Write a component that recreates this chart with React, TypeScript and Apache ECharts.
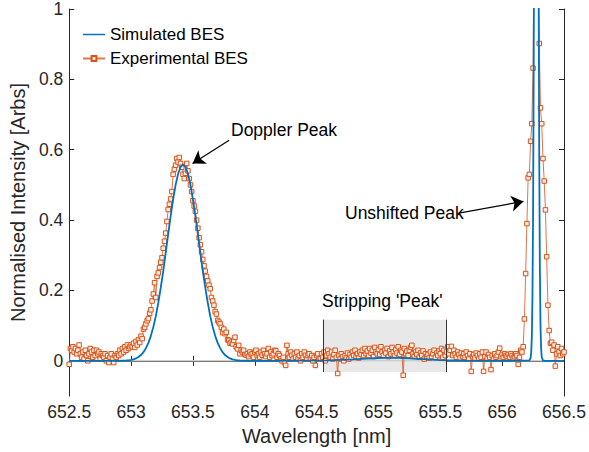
import React, { useEffect, useRef } from "react";
import * as echarts from "echarts";

// Experimental BES: sampled every 0.01 nm from 652.50 nm to 656.50 nm
const EXP_START = 652.5;
const EXP_STEP = 0.01;
const expValues: number[] = [
  -0.010, 0.035, 0.030, 0.040, 0.025, 0.035, 0.020, 0.030, 0.045, 0.020,
  0.010, 0.025, 0.005, 0.030, 0.015, 0.000, 0.020, 0.035, 0.025, 0.010,
  0.030, 0.015, 0.030, 0.020, 0.025, 0.005, 0.020, 0.015, 0.010, 0.020,
  0.000, 0.015, -0.005, 0.010, 0.020, 0.005, -0.005, 0.015, 0.010, 0.020,
  0.015, 0.030, 0.020, 0.035, 0.025, 0.040, 0.030, 0.045, 0.035, 0.040,
  0.045, 0.040, 0.050, 0.038, 0.055, 0.045, 0.060, 0.052, 0.070, 0.063,
  0.090, 0.095, 0.105, 0.114, 0.120, 0.135, 0.145, 0.170, 0.190, 0.222,
  0.180, 0.240, 0.250, 0.265, 0.280, 0.293, 0.320, 0.340, 0.363, 0.396,
  0.430, 0.445, 0.460, 0.481, 0.530, 0.545, 0.556, 0.575, 0.565, 0.578,
  0.561, 0.550, 0.530, 0.518, 0.533, 0.561, 0.540, 0.518, 0.500, 0.481,
  0.455, 0.440, 0.425, 0.400, 0.377, 0.350, 0.330, 0.310, 0.288, 0.270,
  0.255, 0.240, 0.227, 0.215, 0.205, 0.180, 0.170, 0.158, 0.140, 0.133,
  0.115, 0.110, 0.105, 0.095, 0.080, 0.090, 0.077, 0.081, 0.060, 0.058,
  0.050, 0.053, 0.048, 0.058, 0.067, 0.040, 0.034, 0.044, 0.020, 0.030,
  0.025, 0.030, 0.018, 0.016, 0.020, 0.012, 0.025, 0.018, 0.020, 0.010,
  0.025, 0.030, 0.015, 0.020, 0.010, 0.025, 0.016, 0.030, 0.020, 0.012,
  0.020, 0.035, 0.010, 0.025, 0.015, 0.020, 0.030, 0.028, 0.010, 0.020,
  0.015, 0.006, 0.000, 0.010, -0.005, -0.013, 0.044, 0.020, 0.010, 0.025,
  0.016, 0.005, 0.020, 0.010, 0.025, 0.006, 0.015, 0.000, 0.020, 0.010,
  0.025, 0.016, 0.005, 0.015, 0.020, 0.006, 0.015, 0.000, 0.010, -0.013,
  0.015, 0.020, 0.005, 0.006, 0.020, 0.010, 0.025, 0.000, 0.015, 0.030,
  0.020, 0.010, 0.025, 0.005, 0.018, 0.030, 0.010, -0.036, 0.015, 0.005,
  0.020, 0.012, 0.000, 0.015, 0.008, 0.022, 0.005, 0.018, 0.010, 0.025,
  0.015, 0.030, 0.012, 0.020, 0.008, 0.025, 0.018, 0.030, 0.015, 0.035,
  0.020, 0.028, 0.015, 0.035, 0.022, 0.030, 0.012, 0.038, 0.025, 0.020,
  0.032, 0.018, 0.040, 0.025, 0.015, 0.030, 0.022, 0.035, 0.012, 0.028,
  0.020, 0.038, 0.025, 0.015, 0.032, 0.022, 0.040, 0.018, 0.030, 0.025,
  -0.041, 0.035, 0.020, 0.028, 0.015, 0.030, 0.038, 0.044, 0.020, 0.012,
  0.025, 0.018, 0.030, 0.010, 0.022, 0.015, 0.028, 0.005, 0.020, 0.012,
  0.018, 0.008, 0.025, 0.012, 0.020, 0.030, 0.010, 0.022, 0.015, 0.028,
  0.020, 0.035, 0.010, 0.030, 0.015, 0.025, 0.040, 0.020, 0.030, 0.041,
  0.015, 0.030, 0.020, 0.010, 0.025, 0.018, 0.008, 0.022, 0.012, 0.020,
  0.010, 0.025, 0.015, 0.005, 0.020, -0.030, 0.012, 0.018, 0.008, 0.022,
  0.015, 0.005, 0.020, 0.010, 0.025, -0.030, 0.012, 0.025, 0.008, 0.018,
  0.010, -0.025, 0.015, 0.005, 0.020, 0.010, 0.015, 0.025, 0.036, 0.012,
  0.018, 0.010, 0.020, 0.015, 0.012, 0.018, 0.010, 0.020, 0.015, 0.008,
  0.012, 0.020, 0.015, -0.010, 0.010, 0.030, 0.025, 0.040, 0.119, 0.248,
  0.390, 0.520, 0.530, 0.624, 0.674, 0.832, 1.250, 1.600, 1.450, 1.150,
  0.902, 0.719, 0.674, 0.575, 0.511, 0.429, 0.296, 0.158, 0.086, 0.050,
  0.053, 0.030, 0.045, -0.015, 0.020, 0.040, 0.025, 0.015, 0.035, 0.020,
  0.025,
];

// Simulated BES: [wavelength nm, intensity]
const simPoints: [number, number][] = [
  [652.5, 0], [652.9, 0], [652.96, 0.0009], [652.98, 0.0015], [653.0, 0.0025],
  [653.02, 0.0042], [653.04, 0.0068], [653.06, 0.0107], [653.08, 0.0164],
  [653.1, 0.0245], [653.12, 0.036], [653.14, 0.051], [653.16, 0.071],
  [653.18, 0.096], [653.2, 0.127], [653.22, 0.165], [653.24, 0.208],
  [653.26, 0.255], [653.28, 0.307], [653.3, 0.36], [653.32, 0.411],
  [653.34, 0.459], [653.36, 0.5], [653.38, 0.531], [653.4, 0.551],
  [653.42, 0.558], [653.44, 0.551], [653.46, 0.531], [653.48, 0.5],
  [653.5, 0.459], [653.52, 0.411], [653.54, 0.36], [653.56, 0.307],
  [653.58, 0.255], [653.6, 0.208], [653.62, 0.165], [653.64, 0.127],
  [653.66, 0.096], [653.68, 0.071], [653.7, 0.051], [653.72, 0.036],
  [653.74, 0.0245], [653.76, 0.0164], [653.78, 0.0107], [653.8, 0.0068],
  [653.82, 0.0042], [653.84, 0.0025], [653.86, 0.0015], [653.88, 0.0009],
  [653.95, 0.0002], [654.1, 0], [654.6, 0.001], [654.8, 0.004], [654.9, 0.006],
  [655.0, 0.008], [655.1, 0.009], [655.2, 0.008], [655.3, 0.006], [655.4, 0.004],
  [655.5, 0.002], [655.7, 0.0005], [656.0, 0], [656.22, 0.001], [656.23, 0.008],
  [656.235, 0.024], [656.24, 0.07], [656.245, 0.18], [656.25, 0.42],
  [656.255, 0.83], [656.26, 1.42], [656.265, 2.1], [656.27, 2.7], [656.276, 3.0],
  [656.28, 2.86], [656.285, 2.37], [656.29, 1.7], [656.295, 1.05], [656.3, 0.56],
  [656.305, 0.26], [656.31, 0.1], [656.315, 0.036], [656.32, 0.011],
  [656.33, 0.001], [656.35, 0], [656.5, 0],
];

const xTickValues = [652.5, 653, 653.5, 654, 654.5, 655, 655.5, 656, 656.5];
const yTickValues = [0, 0.2, 0.4, 0.6, 0.8, 1];

// Stripping 'Peak' box: [x0, y0, x1, y1]
const stripBox = [654.55, 0.117, 655.55, -0.032];
// Arrows: [fromX, fromY, toX, toY]
const dopplerArrow = [653.793, 0.627, 653.497, 0.561];
const unshiftedArrow = [655.65, 0.42, 656.172, 0.453];

const FONT = "'Liberation Sans', Arial, Helvetica, sans-serif";

export default function App() {
  const ref = useRef<HTMLDivElement>(null);
  useEffect(() => {
    if (!ref.current) return;
    const chart = echarts.init(ref.current, undefined, { renderer: "svg" });
    const expData = expValues.map((v, i) => [
      +(EXP_START + i * EXP_STEP).toFixed(3),
      v,
    ]);
    const axisColor = "#262626";
    const commonX = {
      type: "value",
      min: 652.5,
      max: 656.5,
      interval: 0.5,
      splitLine: { show: false },
      axisLine: { show: true, lineStyle: { color: axisColor, width: 1 } },
      axisTick: { show: true, inside: true, length: 5, lineStyle: { color: axisColor } },
    };
    const commonY = {
      type: "value",
      min: -0.1,
      max: 1,
      splitLine: { show: false },
      axisLine: { show: true, lineStyle: { color: axisColor, width: 1 } },
      axisTick: {
        show: true,
        inside: true,
        length: 5,
        customValues: yTickValues,
        lineStyle: { color: axisColor },
      },
    };
    chart.setOption({
      animation: false,
      textStyle: { fontFamily: FONT },
      grid: { left: 68, right: 25, top: 6, bottom: 56 },
      legend: {
        data: [
          { name: "Simulated BES", icon: "path://M0,0 L24,0 L24,1.6 L0,1.6 Z" },
          { name: "Experimental BES" },
        ],
        orient: "vertical",
        left: 77,
        top: 21,
        itemWidth: 22,
        itemHeight: 6,
        itemGap: 7,
        textStyle: { fontSize: 17, color: "#000", fontFamily: FONT },
      },
      xAxis: [
        {
          ...commonX,
          position: "bottom",
          name: "Wavelength [nm]",
          nameLocation: "middle",
          nameGap: 30,
          nameTextStyle: { fontSize: 20, color: axisColor, fontFamily: FONT },
          axisLabel: {
            fontSize: 17.5,
            color: axisColor,
            margin: 7,
            customValues: xTickValues,
            formatter: (v: number) => String(v),
          },
        },
        { ...commonX, position: "top", axisLabel: { show: false } },
      ],
      yAxis: [
        {
          ...commonY,
          position: "left",
          name: "Normalised Intensity [Arbs]",
          nameLocation: "middle",
          nameGap: 38,
          nameTextStyle: { fontSize: 20, color: axisColor, fontFamily: FONT },
          axisLabel: {
            fontSize: 17.5,
            color: axisColor,
            margin: 6,
            customValues: yTickValues,
            formatter: (v: number) => String(+v.toFixed(2)),
          },
        },
        { ...commonY, position: "right", axisLabel: { show: false } },
      ],
      graphic: [
        {
          type: "text",
          style: { text: "Doppler Peak", x: 231, y: 130, verticalAlign: "middle", font: `17.5px ${FONT}`, fill: "#000" },
        },
        {
          type: "text",
          style: { text: "Unshifted Peak", x: 345, y: 213, verticalAlign: "middle", font: `17.5px ${FONT}`, fill: "#000" },
        },
        {
          type: "text",
          style: { text: "Stripping 'Peak'", x: 322, y: 301, verticalAlign: "middle", font: `17.5px ${FONT}`, fill: "#000" },
        },
      ],
      series: [
        {
          name: "box",
          type: "line",
          data: [],
          z: 0,
          silent: true,
          markArea: {
            silent: true,
            itemStyle: { color: "#e8e8e8" },
            data: [[{ coord: [stripBox[0], stripBox[1]] }, { coord: [stripBox[2], stripBox[3]] }]],
          },
          markLine: {
            silent: true,
            symbol: ["none", "none"],
            label: { show: false },
            lineStyle: { color: "#333", width: 1, type: "solid" },
            data: [
              [{ coord: [stripBox[0], stripBox[1]] }, { coord: [stripBox[0], stripBox[3]] }],
              [{ coord: [stripBox[2], stripBox[1]] }, { coord: [stripBox[2], stripBox[3]] }],
            ],
          },
        },
        {
          name: "zero",
          type: "line",
          data: [[652.5, 0], [656.5, 0]],
          symbol: "none",
          silent: true,
          z: 1,
          lineStyle: { color: "#cfcfcf", width: 1.5 },
        },
        {
          name: "Experimental BES",
          type: "line",
          data: expData,
          z: 2,
          symbol: "rect",
          symbolSize: 4.5,
          showSymbol: true,
          showAllSymbol: true,
          clip: true,
          itemStyle: { color: "#fdeee6", borderColor: "#D95319", borderWidth: 1 },
          lineStyle: { color: "rgba(217,83,25,0.8)", width: 1 },
          markLine: {
            silent: true,
            symbol: ["none", "arrow"],
            symbolSize: 12,
            label: { show: false },
            lineStyle: { color: "#000", width: 1.2, type: "solid" },
            data: [
              [{ coord: [dopplerArrow[0], dopplerArrow[1]] }, { coord: [dopplerArrow[2], dopplerArrow[3]] }],
              [{ coord: [unshiftedArrow[0], unshiftedArrow[1]] }, { coord: [unshiftedArrow[2], unshiftedArrow[3]] }],
            ],
          },
        },
        {
          name: "Simulated BES",
          type: "line",
          data: simPoints,
          z: 3,
          symbol: "none",
          clip: true,
          itemStyle: { color: "#0072BD" },
          lineStyle: { color: "#0072BD", width: 1.8 },
        },
      ],
    });
    return () => chart.dispose();
  }, []);
  return <div ref={ref} style={{ width: 589, height: 452, position: "absolute", left: 0, top: 0 }} />;
}
